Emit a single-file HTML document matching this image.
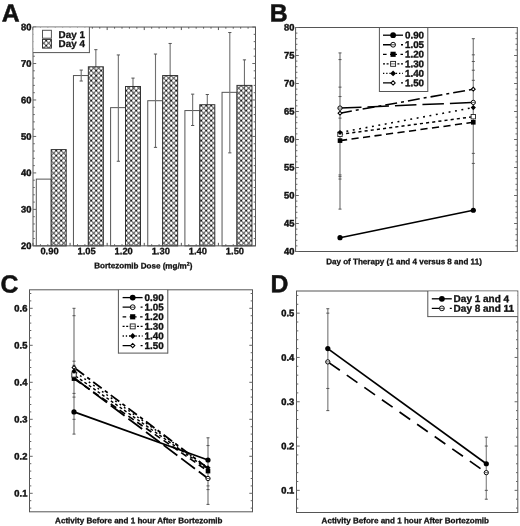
<!DOCTYPE html>
<html lang="en"><head><meta charset="utf-8"><title>Figure</title>
<style>html,body{margin:0;padding:0;background:#fff}body{width:520px;height:526px;overflow:hidden}svg{display:block}</style>
</head><body>
<svg width="520" height="526" viewBox="0 0 520 526" font-family="'Liberation Sans', sans-serif" font-weight="bold" fill="#111" text-rendering="geometricPrecision">
<defs><pattern id="hx" width="5" height="5" patternUnits="userSpaceOnUse" x="1.2" y="0.6"><rect width="5" height="5" fill="#fff"/><path d="M-1 -1L6 6M-1 6L6 -1" stroke="#1a1a1a" stroke-width="0.95" fill="none"/><path d="M0 0h.01M5 0h.01M0 5h.01M5 5h.01M2.5 2.5h.01" stroke="#000" stroke-width="1.5" stroke-linecap="round" fill="none"/></pattern></defs>
<rect width="520" height="526" fill="#fff"/>
<text x="1.70" y="21.50" transform="rotate(0.05 1.70 21.50)" font-size="24.8" text-anchor="start" stroke="#111" stroke-width="0.5" stroke-linejoin="round">A</text>
<text x="269.70" y="21.50" transform="rotate(0.05 269.70 21.50)" font-size="24.8" text-anchor="start" stroke="#111" stroke-width="0.5" stroke-linejoin="round">B</text>
<text x="0.50" y="292.50" transform="rotate(0.05 0.50 292.50)" font-size="24.8" text-anchor="start" stroke="#111" stroke-width="0.5" stroke-linejoin="round">C</text>
<text x="270.50" y="292.30" transform="rotate(0.05 270.50 292.30)" font-size="24.8" text-anchor="start" stroke="#111" stroke-width="0.5" stroke-linejoin="round">D</text>
<rect x="36.30" y="179.12" width="14.90" height="66.73" fill="#fff" stroke="#555" stroke-width="1"/>
<rect x="51.20" y="149.58" width="15.00" height="96.27" fill="url(#hx)" stroke="#333" stroke-width="1"/>
<rect x="73.45" y="75.55" width="14.90" height="170.30" fill="#fff" stroke="#555" stroke-width="1"/>
<line x1="95.85" y1="49.66" x2="95.85" y2="85.40" stroke="#707070" stroke-width="1.1" />
<line x1="94.25" y1="49.66" x2="97.45" y2="49.66" stroke="#555" stroke-width="1.0" />
<line x1="94.25" y1="85.40" x2="97.45" y2="85.40" stroke="#555" stroke-width="1.0" />
<rect x="88.35" y="66.80" width="15.00" height="179.05" fill="url(#hx)" stroke="#333" stroke-width="1"/>
<line x1="95.85" y1="66.80" x2="95.85" y2="85.40" stroke="#000" stroke-width="1.1" opacity="0.3"/>
<line x1="81.20" y1="70.08" x2="81.20" y2="81.02" stroke="#707070" stroke-width="1.1" />
<line x1="79.60" y1="70.08" x2="82.80" y2="70.08" stroke="#555" stroke-width="1.0" />
<line x1="79.60" y1="81.02" x2="82.80" y2="81.02" stroke="#555" stroke-width="1.0" />
<rect x="110.60" y="107.64" width="14.90" height="138.21" fill="#fff" stroke="#555" stroke-width="1"/>
<line x1="133.00" y1="78.10" x2="133.00" y2="94.51" stroke="#707070" stroke-width="1.1" />
<line x1="131.40" y1="78.10" x2="134.60" y2="78.10" stroke="#555" stroke-width="1.0" />
<line x1="131.40" y1="94.51" x2="134.60" y2="94.51" stroke="#555" stroke-width="1.0" />
<rect x="125.50" y="86.49" width="15.00" height="159.36" fill="url(#hx)" stroke="#333" stroke-width="1"/>
<line x1="133.00" y1="86.49" x2="133.00" y2="94.51" stroke="#000" stroke-width="1.1" opacity="0.3"/>
<line x1="118.35" y1="54.95" x2="118.35" y2="161.25" stroke="#707070" stroke-width="1.1" />
<line x1="116.75" y1="54.95" x2="119.95" y2="54.95" stroke="#555" stroke-width="1.0" />
<line x1="116.75" y1="161.25" x2="119.95" y2="161.25" stroke="#555" stroke-width="1.0" />
<rect x="147.75" y="100.71" width="14.90" height="145.14" fill="#fff" stroke="#555" stroke-width="1"/>
<line x1="170.15" y1="43.46" x2="170.15" y2="107.28" stroke="#707070" stroke-width="1.1" />
<line x1="168.55" y1="43.46" x2="171.75" y2="43.46" stroke="#555" stroke-width="1.0" />
<line x1="168.55" y1="107.28" x2="171.75" y2="107.28" stroke="#555" stroke-width="1.0" />
<rect x="162.65" y="75.55" width="15.00" height="170.30" fill="url(#hx)" stroke="#333" stroke-width="1"/>
<line x1="170.15" y1="75.55" x2="170.15" y2="107.28" stroke="#000" stroke-width="1.1" opacity="0.3"/>
<line x1="155.50" y1="54.04" x2="155.50" y2="147.39" stroke="#707070" stroke-width="1.1" />
<line x1="153.90" y1="54.04" x2="157.10" y2="54.04" stroke="#555" stroke-width="1.0" />
<line x1="153.90" y1="147.39" x2="157.10" y2="147.39" stroke="#555" stroke-width="1.0" />
<rect x="184.90" y="110.56" width="14.90" height="135.29" fill="#fff" stroke="#555" stroke-width="1"/>
<line x1="207.30" y1="94.51" x2="207.30" y2="114.57" stroke="#707070" stroke-width="1.1" />
<line x1="205.70" y1="94.51" x2="208.90" y2="94.51" stroke="#555" stroke-width="1.0" />
<line x1="205.70" y1="114.57" x2="208.90" y2="114.57" stroke="#555" stroke-width="1.0" />
<rect x="199.80" y="104.72" width="15.00" height="141.13" fill="url(#hx)" stroke="#333" stroke-width="1"/>
<line x1="207.30" y1="104.72" x2="207.30" y2="114.57" stroke="#000" stroke-width="1.1" opacity="0.3"/>
<line x1="192.65" y1="94.15" x2="192.65" y2="125.51" stroke="#707070" stroke-width="1.1" />
<line x1="191.05" y1="94.15" x2="194.25" y2="94.15" stroke="#555" stroke-width="1.0" />
<line x1="191.05" y1="125.51" x2="194.25" y2="125.51" stroke="#555" stroke-width="1.0" />
<rect x="222.05" y="92.33" width="14.90" height="153.52" fill="#fff" stroke="#555" stroke-width="1"/>
<line x1="244.45" y1="59.87" x2="244.45" y2="110.92" stroke="#707070" stroke-width="1.1" />
<line x1="242.85" y1="59.87" x2="246.05" y2="59.87" stroke="#555" stroke-width="1.0" />
<line x1="242.85" y1="110.92" x2="246.05" y2="110.92" stroke="#555" stroke-width="1.0" />
<rect x="236.95" y="85.40" width="15.00" height="160.45" fill="url(#hx)" stroke="#333" stroke-width="1"/>
<line x1="244.45" y1="85.40" x2="244.45" y2="110.92" stroke="#000" stroke-width="1.1" opacity="0.3"/>
<line x1="229.80" y1="32.52" x2="229.80" y2="152.86" stroke="#707070" stroke-width="1.1" />
<line x1="228.20" y1="32.52" x2="231.40" y2="32.52" stroke="#555" stroke-width="1.0" />
<line x1="228.20" y1="152.86" x2="231.40" y2="152.86" stroke="#555" stroke-width="1.0" />
<rect x="33.00" y="27.05" width="222.50" height="218.80" fill="none" stroke="#555" stroke-width="1"/>
<line x1="33.00" y1="245.85" x2="36.20" y2="245.85" stroke="#666" stroke-width="1" />
<line x1="255.50" y1="245.85" x2="252.30" y2="245.85" stroke="#666" stroke-width="1" />
<line x1="33.00" y1="238.56" x2="34.80" y2="238.56" stroke="#666" stroke-width="1" />
<line x1="255.50" y1="238.56" x2="253.70" y2="238.56" stroke="#666" stroke-width="1" />
<line x1="33.00" y1="231.26" x2="34.80" y2="231.26" stroke="#666" stroke-width="1" />
<line x1="255.50" y1="231.26" x2="253.70" y2="231.26" stroke="#666" stroke-width="1" />
<line x1="33.00" y1="223.97" x2="34.80" y2="223.97" stroke="#666" stroke-width="1" />
<line x1="255.50" y1="223.97" x2="253.70" y2="223.97" stroke="#666" stroke-width="1" />
<line x1="33.00" y1="216.68" x2="34.80" y2="216.68" stroke="#666" stroke-width="1" />
<line x1="255.50" y1="216.68" x2="253.70" y2="216.68" stroke="#666" stroke-width="1" />
<line x1="33.00" y1="209.38" x2="36.20" y2="209.38" stroke="#666" stroke-width="1" />
<line x1="255.50" y1="209.38" x2="252.30" y2="209.38" stroke="#666" stroke-width="1" />
<line x1="33.00" y1="202.09" x2="34.80" y2="202.09" stroke="#666" stroke-width="1" />
<line x1="255.50" y1="202.09" x2="253.70" y2="202.09" stroke="#666" stroke-width="1" />
<line x1="33.00" y1="194.80" x2="34.80" y2="194.80" stroke="#666" stroke-width="1" />
<line x1="255.50" y1="194.80" x2="253.70" y2="194.80" stroke="#666" stroke-width="1" />
<line x1="33.00" y1="187.50" x2="34.80" y2="187.50" stroke="#666" stroke-width="1" />
<line x1="255.50" y1="187.50" x2="253.70" y2="187.50" stroke="#666" stroke-width="1" />
<line x1="33.00" y1="180.21" x2="34.80" y2="180.21" stroke="#666" stroke-width="1" />
<line x1="255.50" y1="180.21" x2="253.70" y2="180.21" stroke="#666" stroke-width="1" />
<line x1="33.00" y1="172.92" x2="36.20" y2="172.92" stroke="#666" stroke-width="1" />
<line x1="255.50" y1="172.92" x2="252.30" y2="172.92" stroke="#666" stroke-width="1" />
<line x1="33.00" y1="165.62" x2="34.80" y2="165.62" stroke="#666" stroke-width="1" />
<line x1="255.50" y1="165.62" x2="253.70" y2="165.62" stroke="#666" stroke-width="1" />
<line x1="33.00" y1="158.33" x2="34.80" y2="158.33" stroke="#666" stroke-width="1" />
<line x1="255.50" y1="158.33" x2="253.70" y2="158.33" stroke="#666" stroke-width="1" />
<line x1="33.00" y1="151.04" x2="34.80" y2="151.04" stroke="#666" stroke-width="1" />
<line x1="255.50" y1="151.04" x2="253.70" y2="151.04" stroke="#666" stroke-width="1" />
<line x1="33.00" y1="143.74" x2="34.80" y2="143.74" stroke="#666" stroke-width="1" />
<line x1="255.50" y1="143.74" x2="253.70" y2="143.74" stroke="#666" stroke-width="1" />
<line x1="33.00" y1="136.45" x2="36.20" y2="136.45" stroke="#666" stroke-width="1" />
<line x1="255.50" y1="136.45" x2="252.30" y2="136.45" stroke="#666" stroke-width="1" />
<line x1="33.00" y1="129.16" x2="34.80" y2="129.16" stroke="#666" stroke-width="1" />
<line x1="255.50" y1="129.16" x2="253.70" y2="129.16" stroke="#666" stroke-width="1" />
<line x1="33.00" y1="121.86" x2="34.80" y2="121.86" stroke="#666" stroke-width="1" />
<line x1="255.50" y1="121.86" x2="253.70" y2="121.86" stroke="#666" stroke-width="1" />
<line x1="33.00" y1="114.57" x2="34.80" y2="114.57" stroke="#666" stroke-width="1" />
<line x1="255.50" y1="114.57" x2="253.70" y2="114.57" stroke="#666" stroke-width="1" />
<line x1="33.00" y1="107.28" x2="34.80" y2="107.28" stroke="#666" stroke-width="1" />
<line x1="255.50" y1="107.28" x2="253.70" y2="107.28" stroke="#666" stroke-width="1" />
<line x1="33.00" y1="99.98" x2="36.20" y2="99.98" stroke="#666" stroke-width="1" />
<line x1="255.50" y1="99.98" x2="252.30" y2="99.98" stroke="#666" stroke-width="1" />
<line x1="33.00" y1="92.69" x2="34.80" y2="92.69" stroke="#666" stroke-width="1" />
<line x1="255.50" y1="92.69" x2="253.70" y2="92.69" stroke="#666" stroke-width="1" />
<line x1="33.00" y1="85.40" x2="34.80" y2="85.40" stroke="#666" stroke-width="1" />
<line x1="255.50" y1="85.40" x2="253.70" y2="85.40" stroke="#666" stroke-width="1" />
<line x1="33.00" y1="78.10" x2="34.80" y2="78.10" stroke="#666" stroke-width="1" />
<line x1="255.50" y1="78.10" x2="253.70" y2="78.10" stroke="#666" stroke-width="1" />
<line x1="33.00" y1="70.81" x2="34.80" y2="70.81" stroke="#666" stroke-width="1" />
<line x1="255.50" y1="70.81" x2="253.70" y2="70.81" stroke="#666" stroke-width="1" />
<line x1="33.00" y1="63.52" x2="36.20" y2="63.52" stroke="#666" stroke-width="1" />
<line x1="255.50" y1="63.52" x2="252.30" y2="63.52" stroke="#666" stroke-width="1" />
<line x1="33.00" y1="56.22" x2="34.80" y2="56.22" stroke="#666" stroke-width="1" />
<line x1="255.50" y1="56.22" x2="253.70" y2="56.22" stroke="#666" stroke-width="1" />
<line x1="33.00" y1="48.93" x2="34.80" y2="48.93" stroke="#666" stroke-width="1" />
<line x1="255.50" y1="48.93" x2="253.70" y2="48.93" stroke="#666" stroke-width="1" />
<line x1="33.00" y1="41.64" x2="34.80" y2="41.64" stroke="#666" stroke-width="1" />
<line x1="255.50" y1="41.64" x2="253.70" y2="41.64" stroke="#666" stroke-width="1" />
<line x1="33.00" y1="34.34" x2="34.80" y2="34.34" stroke="#666" stroke-width="1" />
<line x1="255.50" y1="34.34" x2="253.70" y2="34.34" stroke="#666" stroke-width="1" />
<line x1="33.00" y1="27.05" x2="36.20" y2="27.05" stroke="#666" stroke-width="1" />
<line x1="255.50" y1="27.05" x2="252.30" y2="27.05" stroke="#666" stroke-width="1" />
<text x="31.40" y="249.05" transform="rotate(0.05 31.40 249.05)" font-size="9.4" text-anchor="end" stroke="#111" stroke-width="0.45">20</text>
<text x="31.40" y="212.58" transform="rotate(0.05 31.40 212.58)" font-size="9.4" text-anchor="end" stroke="#111" stroke-width="0.45">30</text>
<text x="31.40" y="176.12" transform="rotate(0.05 31.40 176.12)" font-size="9.4" text-anchor="end" stroke="#111" stroke-width="0.45">40</text>
<text x="31.40" y="139.65" transform="rotate(0.05 31.40 139.65)" font-size="9.4" text-anchor="end" stroke="#111" stroke-width="0.45">50</text>
<text x="31.40" y="103.18" transform="rotate(0.05 31.40 103.18)" font-size="9.4" text-anchor="end" stroke="#111" stroke-width="0.45">60</text>
<text x="31.40" y="66.72" transform="rotate(0.05 31.40 66.72)" font-size="9.4" text-anchor="end" stroke="#111" stroke-width="0.45">70</text>
<text x="31.40" y="30.25" transform="rotate(0.05 31.40 30.25)" font-size="9.4" text-anchor="end" stroke="#111" stroke-width="0.45">80</text>
<line x1="33.00" y1="27.05" x2="33.00" y2="30.05" stroke="#555" stroke-width="1" />
<line x1="33.00" y1="245.85" x2="33.00" y2="242.85" stroke="#555" stroke-width="1" />
<line x1="40.42" y1="27.05" x2="40.42" y2="28.65" stroke="#555" stroke-width="1" />
<line x1="40.42" y1="245.85" x2="40.42" y2="244.25" stroke="#555" stroke-width="1" />
<line x1="47.83" y1="27.05" x2="47.83" y2="28.65" stroke="#555" stroke-width="1" />
<line x1="47.83" y1="245.85" x2="47.83" y2="244.25" stroke="#555" stroke-width="1" />
<line x1="55.25" y1="27.05" x2="55.25" y2="28.65" stroke="#555" stroke-width="1" />
<line x1="55.25" y1="245.85" x2="55.25" y2="244.25" stroke="#555" stroke-width="1" />
<line x1="62.67" y1="27.05" x2="62.67" y2="28.65" stroke="#555" stroke-width="1" />
<line x1="62.67" y1="245.85" x2="62.67" y2="244.25" stroke="#555" stroke-width="1" />
<line x1="70.08" y1="27.05" x2="70.08" y2="30.05" stroke="#555" stroke-width="1" />
<line x1="70.08" y1="245.85" x2="70.08" y2="242.85" stroke="#555" stroke-width="1" />
<line x1="77.50" y1="27.05" x2="77.50" y2="28.65" stroke="#555" stroke-width="1" />
<line x1="77.50" y1="245.85" x2="77.50" y2="244.25" stroke="#555" stroke-width="1" />
<line x1="84.92" y1="27.05" x2="84.92" y2="28.65" stroke="#555" stroke-width="1" />
<line x1="84.92" y1="245.85" x2="84.92" y2="244.25" stroke="#555" stroke-width="1" />
<line x1="92.33" y1="27.05" x2="92.33" y2="28.65" stroke="#555" stroke-width="1" />
<line x1="92.33" y1="245.85" x2="92.33" y2="244.25" stroke="#555" stroke-width="1" />
<line x1="99.75" y1="27.05" x2="99.75" y2="28.65" stroke="#555" stroke-width="1" />
<line x1="99.75" y1="245.85" x2="99.75" y2="244.25" stroke="#555" stroke-width="1" />
<line x1="107.17" y1="27.05" x2="107.17" y2="30.05" stroke="#555" stroke-width="1" />
<line x1="107.17" y1="245.85" x2="107.17" y2="242.85" stroke="#555" stroke-width="1" />
<line x1="114.58" y1="27.05" x2="114.58" y2="28.65" stroke="#555" stroke-width="1" />
<line x1="114.58" y1="245.85" x2="114.58" y2="244.25" stroke="#555" stroke-width="1" />
<line x1="122.00" y1="27.05" x2="122.00" y2="28.65" stroke="#555" stroke-width="1" />
<line x1="122.00" y1="245.85" x2="122.00" y2="244.25" stroke="#555" stroke-width="1" />
<line x1="129.42" y1="27.05" x2="129.42" y2="28.65" stroke="#555" stroke-width="1" />
<line x1="129.42" y1="245.85" x2="129.42" y2="244.25" stroke="#555" stroke-width="1" />
<line x1="136.83" y1="27.05" x2="136.83" y2="28.65" stroke="#555" stroke-width="1" />
<line x1="136.83" y1="245.85" x2="136.83" y2="244.25" stroke="#555" stroke-width="1" />
<line x1="144.25" y1="27.05" x2="144.25" y2="30.05" stroke="#555" stroke-width="1" />
<line x1="144.25" y1="245.85" x2="144.25" y2="242.85" stroke="#555" stroke-width="1" />
<line x1="151.67" y1="27.05" x2="151.67" y2="28.65" stroke="#555" stroke-width="1" />
<line x1="151.67" y1="245.85" x2="151.67" y2="244.25" stroke="#555" stroke-width="1" />
<line x1="159.08" y1="27.05" x2="159.08" y2="28.65" stroke="#555" stroke-width="1" />
<line x1="159.08" y1="245.85" x2="159.08" y2="244.25" stroke="#555" stroke-width="1" />
<line x1="166.50" y1="27.05" x2="166.50" y2="28.65" stroke="#555" stroke-width="1" />
<line x1="166.50" y1="245.85" x2="166.50" y2="244.25" stroke="#555" stroke-width="1" />
<line x1="173.92" y1="27.05" x2="173.92" y2="28.65" stroke="#555" stroke-width="1" />
<line x1="173.92" y1="245.85" x2="173.92" y2="244.25" stroke="#555" stroke-width="1" />
<line x1="181.33" y1="27.05" x2="181.33" y2="30.05" stroke="#555" stroke-width="1" />
<line x1="181.33" y1="245.85" x2="181.33" y2="242.85" stroke="#555" stroke-width="1" />
<line x1="188.75" y1="27.05" x2="188.75" y2="28.65" stroke="#555" stroke-width="1" />
<line x1="188.75" y1="245.85" x2="188.75" y2="244.25" stroke="#555" stroke-width="1" />
<line x1="196.17" y1="27.05" x2="196.17" y2="28.65" stroke="#555" stroke-width="1" />
<line x1="196.17" y1="245.85" x2="196.17" y2="244.25" stroke="#555" stroke-width="1" />
<line x1="203.58" y1="27.05" x2="203.58" y2="28.65" stroke="#555" stroke-width="1" />
<line x1="203.58" y1="245.85" x2="203.58" y2="244.25" stroke="#555" stroke-width="1" />
<line x1="211.00" y1="27.05" x2="211.00" y2="28.65" stroke="#555" stroke-width="1" />
<line x1="211.00" y1="245.85" x2="211.00" y2="244.25" stroke="#555" stroke-width="1" />
<line x1="218.42" y1="27.05" x2="218.42" y2="30.05" stroke="#555" stroke-width="1" />
<line x1="218.42" y1="245.85" x2="218.42" y2="242.85" stroke="#555" stroke-width="1" />
<line x1="225.83" y1="27.05" x2="225.83" y2="28.65" stroke="#555" stroke-width="1" />
<line x1="225.83" y1="245.85" x2="225.83" y2="244.25" stroke="#555" stroke-width="1" />
<line x1="233.25" y1="27.05" x2="233.25" y2="28.65" stroke="#555" stroke-width="1" />
<line x1="233.25" y1="245.85" x2="233.25" y2="244.25" stroke="#555" stroke-width="1" />
<line x1="240.67" y1="27.05" x2="240.67" y2="28.65" stroke="#555" stroke-width="1" />
<line x1="240.67" y1="245.85" x2="240.67" y2="244.25" stroke="#555" stroke-width="1" />
<line x1="248.08" y1="27.05" x2="248.08" y2="28.65" stroke="#555" stroke-width="1" />
<line x1="248.08" y1="245.85" x2="248.08" y2="244.25" stroke="#555" stroke-width="1" />
<line x1="255.50" y1="27.05" x2="255.50" y2="30.05" stroke="#555" stroke-width="1" />
<line x1="255.50" y1="245.85" x2="255.50" y2="242.85" stroke="#555" stroke-width="1" />
<text x="49.54" y="254.25" transform="rotate(0.05 49.54 254.25)" font-size="9.4" text-anchor="middle" stroke="#111" stroke-width="0.3">0.90</text>
<text x="86.63" y="254.25" transform="rotate(0.05 86.63 254.25)" font-size="9.4" text-anchor="middle" stroke="#111" stroke-width="0.3">1.05</text>
<text x="123.71" y="254.25" transform="rotate(0.05 123.71 254.25)" font-size="9.4" text-anchor="middle" stroke="#111" stroke-width="0.3">1.20</text>
<text x="160.79" y="254.25" transform="rotate(0.05 160.79 254.25)" font-size="9.4" text-anchor="middle" stroke="#111" stroke-width="0.3">1.30</text>
<text x="197.88" y="254.25" transform="rotate(0.05 197.88 254.25)" font-size="9.4" text-anchor="middle" stroke="#111" stroke-width="0.3">1.40</text>
<text x="234.96" y="254.25" transform="rotate(0.05 234.96 254.25)" font-size="9.4" text-anchor="middle" stroke="#111" stroke-width="0.3">1.50</text>
<rect x="33.50" y="27.55" width="55.40" height="25.05" fill="#fff"/>
<line x1="89.40" y1="27.05" x2="89.40" y2="53.10" stroke="#555" stroke-width="1" />
<line x1="33.00" y1="52.60" x2="89.40" y2="52.60" stroke="#555" stroke-width="1" />
<rect x="42.50" y="30.30" width="8.90" height="7.90" fill="#fff" stroke="#555" stroke-width="1"/>
<rect x="42.50" y="39.40" width="8.90" height="8.70" fill="url(#hx)" stroke="#333" stroke-width="1"/>
<text x="58.60" y="37.90" transform="rotate(0.05 58.60 37.90)" font-size="9.9" text-anchor="start" stroke="#111" stroke-width="0.3">Day 1</text>
<text x="58.60" y="47.00" transform="rotate(0.05 58.60 47.00)" font-size="9.9" text-anchor="start" stroke="#111" stroke-width="0.3">Day 4</text>
<text x="143.3" y="268.4" transform="rotate(0.05 143.3 268.4)" font-size="8.05" text-anchor="middle" stroke="#111" stroke-width="0.3">Bortezomib Dose (mg/m<tspan font-size="5.2" dy="-3">2</tspan><tspan dy="3">)</tspan></text>
<rect x="295.60" y="27.50" width="221.70" height="224.00" fill="none" stroke="#555" stroke-width="1"/>
<line x1="295.60" y1="251.50" x2="298.80" y2="251.50" stroke="#666" stroke-width="1" />
<line x1="517.30" y1="251.50" x2="514.10" y2="251.50" stroke="#666" stroke-width="1" />
<line x1="295.60" y1="245.90" x2="297.40" y2="245.90" stroke="#666" stroke-width="1" />
<line x1="517.30" y1="245.90" x2="515.50" y2="245.90" stroke="#666" stroke-width="1" />
<line x1="295.60" y1="240.30" x2="297.40" y2="240.30" stroke="#666" stroke-width="1" />
<line x1="517.30" y1="240.30" x2="515.50" y2="240.30" stroke="#666" stroke-width="1" />
<line x1="295.60" y1="234.70" x2="297.40" y2="234.70" stroke="#666" stroke-width="1" />
<line x1="517.30" y1="234.70" x2="515.50" y2="234.70" stroke="#666" stroke-width="1" />
<line x1="295.60" y1="229.10" x2="297.40" y2="229.10" stroke="#666" stroke-width="1" />
<line x1="517.30" y1="229.10" x2="515.50" y2="229.10" stroke="#666" stroke-width="1" />
<line x1="295.60" y1="223.50" x2="298.80" y2="223.50" stroke="#666" stroke-width="1" />
<line x1="517.30" y1="223.50" x2="514.10" y2="223.50" stroke="#666" stroke-width="1" />
<line x1="295.60" y1="217.90" x2="297.40" y2="217.90" stroke="#666" stroke-width="1" />
<line x1="517.30" y1="217.90" x2="515.50" y2="217.90" stroke="#666" stroke-width="1" />
<line x1="295.60" y1="212.30" x2="297.40" y2="212.30" stroke="#666" stroke-width="1" />
<line x1="517.30" y1="212.30" x2="515.50" y2="212.30" stroke="#666" stroke-width="1" />
<line x1="295.60" y1="206.70" x2="297.40" y2="206.70" stroke="#666" stroke-width="1" />
<line x1="517.30" y1="206.70" x2="515.50" y2="206.70" stroke="#666" stroke-width="1" />
<line x1="295.60" y1="201.10" x2="297.40" y2="201.10" stroke="#666" stroke-width="1" />
<line x1="517.30" y1="201.10" x2="515.50" y2="201.10" stroke="#666" stroke-width="1" />
<line x1="295.60" y1="195.50" x2="298.80" y2="195.50" stroke="#666" stroke-width="1" />
<line x1="517.30" y1="195.50" x2="514.10" y2="195.50" stroke="#666" stroke-width="1" />
<line x1="295.60" y1="189.90" x2="297.40" y2="189.90" stroke="#666" stroke-width="1" />
<line x1="517.30" y1="189.90" x2="515.50" y2="189.90" stroke="#666" stroke-width="1" />
<line x1="295.60" y1="184.30" x2="297.40" y2="184.30" stroke="#666" stroke-width="1" />
<line x1="517.30" y1="184.30" x2="515.50" y2="184.30" stroke="#666" stroke-width="1" />
<line x1="295.60" y1="178.70" x2="297.40" y2="178.70" stroke="#666" stroke-width="1" />
<line x1="517.30" y1="178.70" x2="515.50" y2="178.70" stroke="#666" stroke-width="1" />
<line x1="295.60" y1="173.10" x2="297.40" y2="173.10" stroke="#666" stroke-width="1" />
<line x1="517.30" y1="173.10" x2="515.50" y2="173.10" stroke="#666" stroke-width="1" />
<line x1="295.60" y1="167.50" x2="298.80" y2="167.50" stroke="#666" stroke-width="1" />
<line x1="517.30" y1="167.50" x2="514.10" y2="167.50" stroke="#666" stroke-width="1" />
<line x1="295.60" y1="161.90" x2="297.40" y2="161.90" stroke="#666" stroke-width="1" />
<line x1="517.30" y1="161.90" x2="515.50" y2="161.90" stroke="#666" stroke-width="1" />
<line x1="295.60" y1="156.30" x2="297.40" y2="156.30" stroke="#666" stroke-width="1" />
<line x1="517.30" y1="156.30" x2="515.50" y2="156.30" stroke="#666" stroke-width="1" />
<line x1="295.60" y1="150.70" x2="297.40" y2="150.70" stroke="#666" stroke-width="1" />
<line x1="517.30" y1="150.70" x2="515.50" y2="150.70" stroke="#666" stroke-width="1" />
<line x1="295.60" y1="145.10" x2="297.40" y2="145.10" stroke="#666" stroke-width="1" />
<line x1="517.30" y1="145.10" x2="515.50" y2="145.10" stroke="#666" stroke-width="1" />
<line x1="295.60" y1="139.50" x2="298.80" y2="139.50" stroke="#666" stroke-width="1" />
<line x1="517.30" y1="139.50" x2="514.10" y2="139.50" stroke="#666" stroke-width="1" />
<line x1="295.60" y1="133.90" x2="297.40" y2="133.90" stroke="#666" stroke-width="1" />
<line x1="517.30" y1="133.90" x2="515.50" y2="133.90" stroke="#666" stroke-width="1" />
<line x1="295.60" y1="128.30" x2="297.40" y2="128.30" stroke="#666" stroke-width="1" />
<line x1="517.30" y1="128.30" x2="515.50" y2="128.30" stroke="#666" stroke-width="1" />
<line x1="295.60" y1="122.70" x2="297.40" y2="122.70" stroke="#666" stroke-width="1" />
<line x1="517.30" y1="122.70" x2="515.50" y2="122.70" stroke="#666" stroke-width="1" />
<line x1="295.60" y1="117.10" x2="297.40" y2="117.10" stroke="#666" stroke-width="1" />
<line x1="517.30" y1="117.10" x2="515.50" y2="117.10" stroke="#666" stroke-width="1" />
<line x1="295.60" y1="111.50" x2="298.80" y2="111.50" stroke="#666" stroke-width="1" />
<line x1="517.30" y1="111.50" x2="514.10" y2="111.50" stroke="#666" stroke-width="1" />
<line x1="295.60" y1="105.90" x2="297.40" y2="105.90" stroke="#666" stroke-width="1" />
<line x1="517.30" y1="105.90" x2="515.50" y2="105.90" stroke="#666" stroke-width="1" />
<line x1="295.60" y1="100.30" x2="297.40" y2="100.30" stroke="#666" stroke-width="1" />
<line x1="517.30" y1="100.30" x2="515.50" y2="100.30" stroke="#666" stroke-width="1" />
<line x1="295.60" y1="94.70" x2="297.40" y2="94.70" stroke="#666" stroke-width="1" />
<line x1="517.30" y1="94.70" x2="515.50" y2="94.70" stroke="#666" stroke-width="1" />
<line x1="295.60" y1="89.10" x2="297.40" y2="89.10" stroke="#666" stroke-width="1" />
<line x1="517.30" y1="89.10" x2="515.50" y2="89.10" stroke="#666" stroke-width="1" />
<line x1="295.60" y1="83.50" x2="298.80" y2="83.50" stroke="#666" stroke-width="1" />
<line x1="517.30" y1="83.50" x2="514.10" y2="83.50" stroke="#666" stroke-width="1" />
<line x1="295.60" y1="77.90" x2="297.40" y2="77.90" stroke="#666" stroke-width="1" />
<line x1="517.30" y1="77.90" x2="515.50" y2="77.90" stroke="#666" stroke-width="1" />
<line x1="295.60" y1="72.30" x2="297.40" y2="72.30" stroke="#666" stroke-width="1" />
<line x1="517.30" y1="72.30" x2="515.50" y2="72.30" stroke="#666" stroke-width="1" />
<line x1="295.60" y1="66.70" x2="297.40" y2="66.70" stroke="#666" stroke-width="1" />
<line x1="517.30" y1="66.70" x2="515.50" y2="66.70" stroke="#666" stroke-width="1" />
<line x1="295.60" y1="61.10" x2="297.40" y2="61.10" stroke="#666" stroke-width="1" />
<line x1="517.30" y1="61.10" x2="515.50" y2="61.10" stroke="#666" stroke-width="1" />
<line x1="295.60" y1="55.50" x2="298.80" y2="55.50" stroke="#666" stroke-width="1" />
<line x1="517.30" y1="55.50" x2="514.10" y2="55.50" stroke="#666" stroke-width="1" />
<line x1="295.60" y1="49.90" x2="297.40" y2="49.90" stroke="#666" stroke-width="1" />
<line x1="517.30" y1="49.90" x2="515.50" y2="49.90" stroke="#666" stroke-width="1" />
<line x1="295.60" y1="44.30" x2="297.40" y2="44.30" stroke="#666" stroke-width="1" />
<line x1="517.30" y1="44.30" x2="515.50" y2="44.30" stroke="#666" stroke-width="1" />
<line x1="295.60" y1="38.70" x2="297.40" y2="38.70" stroke="#666" stroke-width="1" />
<line x1="517.30" y1="38.70" x2="515.50" y2="38.70" stroke="#666" stroke-width="1" />
<line x1="295.60" y1="33.10" x2="297.40" y2="33.10" stroke="#666" stroke-width="1" />
<line x1="517.30" y1="33.10" x2="515.50" y2="33.10" stroke="#666" stroke-width="1" />
<line x1="295.60" y1="27.50" x2="298.80" y2="27.50" stroke="#666" stroke-width="1" />
<line x1="517.30" y1="27.50" x2="514.10" y2="27.50" stroke="#666" stroke-width="1" />
<text x="294.40" y="254.40" transform="rotate(0.05 294.40 254.40)" font-size="9.4" text-anchor="end" stroke="#111" stroke-width="0.45">40</text>
<text x="294.40" y="226.40" transform="rotate(0.05 294.40 226.40)" font-size="9.4" text-anchor="end" stroke="#111" stroke-width="0.45">45</text>
<text x="294.40" y="198.40" transform="rotate(0.05 294.40 198.40)" font-size="9.4" text-anchor="end" stroke="#111" stroke-width="0.45">50</text>
<text x="294.40" y="170.40" transform="rotate(0.05 294.40 170.40)" font-size="9.4" text-anchor="end" stroke="#111" stroke-width="0.45">55</text>
<text x="294.40" y="142.40" transform="rotate(0.05 294.40 142.40)" font-size="9.4" text-anchor="end" stroke="#111" stroke-width="0.45">60</text>
<text x="294.40" y="114.40" transform="rotate(0.05 294.40 114.40)" font-size="9.4" text-anchor="end" stroke="#111" stroke-width="0.45">65</text>
<text x="294.40" y="86.40" transform="rotate(0.05 294.40 86.40)" font-size="9.4" text-anchor="end" stroke="#111" stroke-width="0.45">70</text>
<text x="294.40" y="58.40" transform="rotate(0.05 294.40 58.40)" font-size="9.4" text-anchor="end" stroke="#111" stroke-width="0.45">75</text>
<text x="294.40" y="30.40" transform="rotate(0.05 294.40 30.40)" font-size="9.4" text-anchor="end" stroke="#111" stroke-width="0.45">80</text>
<line x1="340.00" y1="52.92" x2="340.00" y2="209.11" stroke="#909090" stroke-width="1.45" />
<line x1="338.50" y1="52.92" x2="341.50" y2="52.92" stroke="#555" stroke-width="1.0" />
<line x1="338.50" y1="59.59" x2="341.50" y2="59.59" stroke="#555" stroke-width="1.0" />
<line x1="338.50" y1="87.14" x2="341.50" y2="87.14" stroke="#555" stroke-width="1.0" />
<line x1="338.50" y1="96.55" x2="341.50" y2="96.55" stroke="#555" stroke-width="1.0" />
<line x1="338.50" y1="118.11" x2="341.50" y2="118.11" stroke="#555" stroke-width="1.0" />
<line x1="338.50" y1="174.95" x2="341.50" y2="174.95" stroke="#555" stroke-width="1.0" />
<line x1="338.50" y1="176.63" x2="341.50" y2="176.63" stroke="#555" stroke-width="1.0" />
<line x1="338.50" y1="179.04" x2="341.50" y2="179.04" stroke="#555" stroke-width="1.0" />
<line x1="338.50" y1="209.11" x2="341.50" y2="209.11" stroke="#555" stroke-width="1.0" />
<line x1="473.30" y1="38.70" x2="473.30" y2="210.23" stroke="#888" stroke-width="1.3" />
<line x1="471.80" y1="38.70" x2="474.80" y2="38.70" stroke="#555" stroke-width="1.0" />
<line x1="471.80" y1="54.83" x2="474.80" y2="54.83" stroke="#555" stroke-width="1.0" />
<line x1="471.80" y1="61.49" x2="474.80" y2="61.49" stroke="#555" stroke-width="1.0" />
<line x1="471.80" y1="70.23" x2="474.80" y2="70.23" stroke="#555" stroke-width="1.0" />
<line x1="471.80" y1="80.31" x2="474.80" y2="80.31" stroke="#555" stroke-width="1.0" />
<line x1="471.80" y1="153.39" x2="474.80" y2="153.39" stroke="#555" stroke-width="1.0" />
<line x1="471.80" y1="163.41" x2="474.80" y2="163.41" stroke="#555" stroke-width="1.0" />
<line x1="340.00" y1="237.67" x2="473.30" y2="210.23" stroke="#000" stroke-width="1.55" />
<line x1="340.00" y1="108.08" x2="473.30" y2="102.43" stroke="#000" stroke-width="1.55" stroke-dasharray="21.5 6"/>
<line x1="340.00" y1="140.62" x2="473.30" y2="122.31" stroke="#000" stroke-width="1.55" stroke-dasharray="7.2 4.4"/>
<line x1="340.00" y1="134.35" x2="473.30" y2="116.71" stroke="#000" stroke-width="1.47" stroke-dasharray="3.1 3.1"/>
<line x1="340.00" y1="132.50" x2="473.30" y2="107.58" stroke="#000" stroke-width="1.55" stroke-dasharray="1.9 4.6"/>
<line x1="340.00" y1="113.18" x2="473.30" y2="89.16" stroke="#000" stroke-width="1.55" stroke-dasharray="12 4 3 4"/>
<circle cx="340.00" cy="237.67" r="2.60" fill="#000"/>
<circle cx="473.30" cy="210.23" r="2.60" fill="#000"/>
<circle cx="340.00" cy="108.08" r="2.15" fill="#fff" stroke="#000" stroke-width="0.95"/>
<line x1="337.90" y1="108.08" x2="342.10" y2="108.08" stroke="#222" stroke-width="0.65" />
<circle cx="473.30" cy="102.43" r="2.15" fill="#fff" stroke="#000" stroke-width="0.95"/>
<line x1="471.20" y1="102.43" x2="475.40" y2="102.43" stroke="#222" stroke-width="0.65" />
<rect x="337.70" y="138.32" width="4.60" height="4.60" fill="#000"/>
<rect x="471.00" y="120.01" width="4.60" height="4.60" fill="#000"/>
<rect x="337.80" y="132.15" width="4.40" height="4.40" fill="#fff" stroke="#222" stroke-width="0.9"/>
<rect x="471.10" y="114.51" width="4.40" height="4.40" fill="#fff" stroke="#222" stroke-width="0.9"/>
<path d="M337.40 132.50L340.00 129.90L342.60 132.50L340.00 135.10Z" fill="#000"/>
<path d="M470.70 107.58L473.30 104.98L475.90 107.58L473.30 110.18Z" fill="#000"/>
<path d="M338.10 113.18L340.00 111.28L341.90 113.18L340.00 115.08Z" fill="#fff" stroke="#000" stroke-width="1.05"/>
<path d="M471.40 89.16L473.30 87.26L475.20 89.16L473.30 91.06Z" fill="#fff" stroke="#000" stroke-width="1.05"/>
<rect x="379.90" y="28.00" width="47.40" height="63.50" fill="#fff"/>
<line x1="379.40" y1="27.50" x2="379.40" y2="92.00" stroke="#555" stroke-width="1" />
<line x1="427.80" y1="27.50" x2="427.80" y2="92.00" stroke="#555" stroke-width="1" />
<line x1="379.40" y1="91.50" x2="427.80" y2="91.50" stroke="#555" stroke-width="1" />
<line x1="383.00" y1="35.20" x2="403.00" y2="35.20" stroke="#000" stroke-width="1.3" />
<circle cx="393.10" cy="35.20" r="2.91" fill="#000"/>
<text x="405.00" y="38.50" transform="rotate(0.05 405.00 38.50)" font-size="9.8" text-anchor="start" stroke="#111" stroke-width="0.35">0.90</text>
<line x1="383.00" y1="44.75" x2="403.00" y2="44.75" stroke="#000" stroke-width="1.3" stroke-dasharray="10 8 2 50"/>
<circle cx="393.10" cy="44.75" r="2.41" fill="#fff" stroke="#000" stroke-width="0.95"/>
<line x1="390.75" y1="44.75" x2="395.45" y2="44.75" stroke="#222" stroke-width="0.8" />
<text x="405.00" y="48.05" transform="rotate(0.05 405.00 48.05)" font-size="9.8" text-anchor="start" stroke="#111" stroke-width="0.35">1.05</text>
<line x1="383.00" y1="54.30" x2="403.00" y2="54.30" stroke="#000" stroke-width="1.3" stroke-dasharray="3.6 3.4 7 3.5 2.5 50"/>
<rect x="390.52" y="51.72" width="5.15" height="5.15" fill="#000"/>
<text x="405.00" y="57.60" transform="rotate(0.05 405.00 57.60)" font-size="9.8" text-anchor="start" stroke="#111" stroke-width="0.35">1.20</text>
<line x1="383.00" y1="63.85" x2="403.00" y2="63.85" stroke="#000" stroke-width="1.3" stroke-dasharray="2 1.6"/>
<rect x="390.64" y="61.39" width="4.93" height="4.93" fill="#fff" stroke="#222" stroke-width="0.9"/>
<line x1="390.64" y1="63.85" x2="395.56" y2="63.85" stroke="#555" stroke-width="0.8" />
<text x="405.00" y="67.15" transform="rotate(0.05 405.00 67.15)" font-size="9.8" text-anchor="start" stroke="#111" stroke-width="0.35">1.30</text>
<line x1="383.00" y1="73.40" x2="403.00" y2="73.40" stroke="#000" stroke-width="1.3" stroke-dasharray="1.3 1.9"/>
<path d="M390.19 73.40L393.10 70.49L396.01 73.40L393.10 76.31Z" fill="#000"/>
<text x="405.00" y="76.70" transform="rotate(0.05 405.00 76.70)" font-size="9.8" text-anchor="start" stroke="#111" stroke-width="0.35">1.40</text>
<line x1="383.00" y1="82.95" x2="403.00" y2="82.95" stroke="#000" stroke-width="1.3" stroke-dasharray="10 8 2 50"/>
<path d="M390.97 82.95L393.10 80.82L395.23 82.95L393.10 85.08Z" fill="#fff" stroke="#000" stroke-width="1.05"/>
<text x="405.00" y="86.25" transform="rotate(0.05 405.00 86.25)" font-size="9.8" text-anchor="start" stroke="#111" stroke-width="0.35">1.50</text>
<text x="404.00" y="264.30" transform="rotate(0.05 404.00 264.30)" font-size="8.05" text-anchor="middle" stroke="#111" stroke-width="0.3">Day of Therapy (1 and 4 versus 8 and 11)</text>
<rect x="29.50" y="289.80" width="223.00" height="222.00" fill="none" stroke="#555" stroke-width="1"/>
<line x1="29.50" y1="508.10" x2="31.30" y2="508.10" stroke="#666" stroke-width="1" />
<line x1="252.50" y1="508.10" x2="250.70" y2="508.10" stroke="#666" stroke-width="1" />
<line x1="29.50" y1="500.70" x2="31.30" y2="500.70" stroke="#666" stroke-width="1" />
<line x1="252.50" y1="500.70" x2="250.70" y2="500.70" stroke="#666" stroke-width="1" />
<line x1="29.50" y1="493.30" x2="32.70" y2="493.30" stroke="#666" stroke-width="1" />
<line x1="252.50" y1="493.30" x2="249.30" y2="493.30" stroke="#666" stroke-width="1" />
<line x1="29.50" y1="485.90" x2="31.30" y2="485.90" stroke="#666" stroke-width="1" />
<line x1="252.50" y1="485.90" x2="250.70" y2="485.90" stroke="#666" stroke-width="1" />
<line x1="29.50" y1="478.50" x2="31.30" y2="478.50" stroke="#666" stroke-width="1" />
<line x1="252.50" y1="478.50" x2="250.70" y2="478.50" stroke="#666" stroke-width="1" />
<line x1="29.50" y1="471.10" x2="31.30" y2="471.10" stroke="#666" stroke-width="1" />
<line x1="252.50" y1="471.10" x2="250.70" y2="471.10" stroke="#666" stroke-width="1" />
<line x1="29.50" y1="463.70" x2="31.30" y2="463.70" stroke="#666" stroke-width="1" />
<line x1="252.50" y1="463.70" x2="250.70" y2="463.70" stroke="#666" stroke-width="1" />
<line x1="29.50" y1="456.30" x2="32.70" y2="456.30" stroke="#666" stroke-width="1" />
<line x1="252.50" y1="456.30" x2="249.30" y2="456.30" stroke="#666" stroke-width="1" />
<line x1="29.50" y1="448.90" x2="31.30" y2="448.90" stroke="#666" stroke-width="1" />
<line x1="252.50" y1="448.90" x2="250.70" y2="448.90" stroke="#666" stroke-width="1" />
<line x1="29.50" y1="441.50" x2="31.30" y2="441.50" stroke="#666" stroke-width="1" />
<line x1="252.50" y1="441.50" x2="250.70" y2="441.50" stroke="#666" stroke-width="1" />
<line x1="29.50" y1="434.10" x2="31.30" y2="434.10" stroke="#666" stroke-width="1" />
<line x1="252.50" y1="434.10" x2="250.70" y2="434.10" stroke="#666" stroke-width="1" />
<line x1="29.50" y1="426.70" x2="31.30" y2="426.70" stroke="#666" stroke-width="1" />
<line x1="252.50" y1="426.70" x2="250.70" y2="426.70" stroke="#666" stroke-width="1" />
<line x1="29.50" y1="419.30" x2="32.70" y2="419.30" stroke="#666" stroke-width="1" />
<line x1="252.50" y1="419.30" x2="249.30" y2="419.30" stroke="#666" stroke-width="1" />
<line x1="29.50" y1="411.90" x2="31.30" y2="411.90" stroke="#666" stroke-width="1" />
<line x1="252.50" y1="411.90" x2="250.70" y2="411.90" stroke="#666" stroke-width="1" />
<line x1="29.50" y1="404.50" x2="31.30" y2="404.50" stroke="#666" stroke-width="1" />
<line x1="252.50" y1="404.50" x2="250.70" y2="404.50" stroke="#666" stroke-width="1" />
<line x1="29.50" y1="397.10" x2="31.30" y2="397.10" stroke="#666" stroke-width="1" />
<line x1="252.50" y1="397.10" x2="250.70" y2="397.10" stroke="#666" stroke-width="1" />
<line x1="29.50" y1="389.70" x2="31.30" y2="389.70" stroke="#666" stroke-width="1" />
<line x1="252.50" y1="389.70" x2="250.70" y2="389.70" stroke="#666" stroke-width="1" />
<line x1="29.50" y1="382.30" x2="32.70" y2="382.30" stroke="#666" stroke-width="1" />
<line x1="252.50" y1="382.30" x2="249.30" y2="382.30" stroke="#666" stroke-width="1" />
<line x1="29.50" y1="374.90" x2="31.30" y2="374.90" stroke="#666" stroke-width="1" />
<line x1="252.50" y1="374.90" x2="250.70" y2="374.90" stroke="#666" stroke-width="1" />
<line x1="29.50" y1="367.50" x2="31.30" y2="367.50" stroke="#666" stroke-width="1" />
<line x1="252.50" y1="367.50" x2="250.70" y2="367.50" stroke="#666" stroke-width="1" />
<line x1="29.50" y1="360.10" x2="31.30" y2="360.10" stroke="#666" stroke-width="1" />
<line x1="252.50" y1="360.10" x2="250.70" y2="360.10" stroke="#666" stroke-width="1" />
<line x1="29.50" y1="352.70" x2="31.30" y2="352.70" stroke="#666" stroke-width="1" />
<line x1="252.50" y1="352.70" x2="250.70" y2="352.70" stroke="#666" stroke-width="1" />
<line x1="29.50" y1="345.30" x2="32.70" y2="345.30" stroke="#666" stroke-width="1" />
<line x1="252.50" y1="345.30" x2="249.30" y2="345.30" stroke="#666" stroke-width="1" />
<line x1="29.50" y1="337.90" x2="31.30" y2="337.90" stroke="#666" stroke-width="1" />
<line x1="252.50" y1="337.90" x2="250.70" y2="337.90" stroke="#666" stroke-width="1" />
<line x1="29.50" y1="330.50" x2="31.30" y2="330.50" stroke="#666" stroke-width="1" />
<line x1="252.50" y1="330.50" x2="250.70" y2="330.50" stroke="#666" stroke-width="1" />
<line x1="29.50" y1="323.10" x2="31.30" y2="323.10" stroke="#666" stroke-width="1" />
<line x1="252.50" y1="323.10" x2="250.70" y2="323.10" stroke="#666" stroke-width="1" />
<line x1="29.50" y1="315.70" x2="31.30" y2="315.70" stroke="#666" stroke-width="1" />
<line x1="252.50" y1="315.70" x2="250.70" y2="315.70" stroke="#666" stroke-width="1" />
<line x1="29.50" y1="308.30" x2="32.70" y2="308.30" stroke="#666" stroke-width="1" />
<line x1="252.50" y1="308.30" x2="249.30" y2="308.30" stroke="#666" stroke-width="1" />
<line x1="29.50" y1="300.90" x2="31.30" y2="300.90" stroke="#666" stroke-width="1" />
<line x1="252.50" y1="300.90" x2="250.70" y2="300.90" stroke="#666" stroke-width="1" />
<line x1="29.50" y1="293.50" x2="31.30" y2="293.50" stroke="#666" stroke-width="1" />
<line x1="252.50" y1="293.50" x2="250.70" y2="293.50" stroke="#666" stroke-width="1" />
<text x="27.40" y="496.50" transform="rotate(0.05 27.40 496.50)" font-size="9.4" text-anchor="end" stroke="#111" stroke-width="0.45">0.1</text>
<text x="27.40" y="459.50" transform="rotate(0.05 27.40 459.50)" font-size="9.4" text-anchor="end" stroke="#111" stroke-width="0.45">0.2</text>
<text x="27.40" y="422.50" transform="rotate(0.05 27.40 422.50)" font-size="9.4" text-anchor="end" stroke="#111" stroke-width="0.45">0.3</text>
<text x="27.40" y="385.50" transform="rotate(0.05 27.40 385.50)" font-size="9.4" text-anchor="end" stroke="#111" stroke-width="0.45">0.4</text>
<text x="27.40" y="348.50" transform="rotate(0.05 27.40 348.50)" font-size="9.4" text-anchor="end" stroke="#111" stroke-width="0.45">0.5</text>
<text x="27.40" y="311.50" transform="rotate(0.05 27.40 311.50)" font-size="9.4" text-anchor="end" stroke="#111" stroke-width="0.45">0.6</text>
<line x1="74.00" y1="308.30" x2="74.00" y2="434.10" stroke="#6c6c6c" stroke-width="1.1" />
<line x1="72.50" y1="308.30" x2="75.50" y2="308.30" stroke="#555" stroke-width="1.0" />
<line x1="72.50" y1="315.70" x2="75.50" y2="315.70" stroke="#555" stroke-width="1.0" />
<line x1="72.50" y1="361.21" x2="75.50" y2="361.21" stroke="#555" stroke-width="1.0" />
<line x1="72.50" y1="365.28" x2="75.50" y2="365.28" stroke="#555" stroke-width="1.0" />
<line x1="72.50" y1="393.40" x2="75.50" y2="393.40" stroke="#555" stroke-width="1.0" />
<line x1="72.50" y1="397.10" x2="75.50" y2="397.10" stroke="#555" stroke-width="1.0" />
<line x1="72.50" y1="419.30" x2="75.50" y2="419.30" stroke="#555" stroke-width="1.0" />
<line x1="72.50" y1="434.10" x2="75.50" y2="434.10" stroke="#555" stroke-width="1.0" />
<line x1="208.00" y1="437.80" x2="208.00" y2="504.40" stroke="#6c6c6c" stroke-width="1.1" />
<line x1="206.50" y1="437.80" x2="209.50" y2="437.80" stroke="#555" stroke-width="1.0" />
<line x1="206.50" y1="445.57" x2="209.50" y2="445.57" stroke="#555" stroke-width="1.0" />
<line x1="206.50" y1="485.90" x2="209.50" y2="485.90" stroke="#555" stroke-width="1.0" />
<line x1="206.50" y1="489.60" x2="209.50" y2="489.60" stroke="#555" stroke-width="1.0" />
<line x1="206.50" y1="504.40" x2="209.50" y2="504.40" stroke="#555" stroke-width="1.0" />
<line x1="74.00" y1="411.90" x2="208.00" y2="460.00" stroke="#000" stroke-width="1.8" />
<line x1="74.00" y1="377.86" x2="208.00" y2="478.50" stroke="#000" stroke-width="1.8" stroke-dasharray="17.21 4.80" stroke-dashoffset="-2.00"/>
<line x1="74.00" y1="378.60" x2="208.00" y2="471.10" stroke="#000" stroke-width="1.66" stroke-dasharray="6.61 4.08" stroke-dashoffset="-1.94"/>
<line x1="74.00" y1="374.90" x2="208.00" y2="469.25" stroke="#000" stroke-width="1.44" stroke-dasharray="2.94 2.45" stroke-dashoffset="-1.96"/>
<line x1="74.00" y1="371.20" x2="208.00" y2="467.77" stroke="#000" stroke-width="1.44" stroke-dasharray="1.87 3.55" stroke-dashoffset="-1.97"/>
<line x1="74.00" y1="367.50" x2="208.00" y2="468.14" stroke="#000" stroke-width="1.8" stroke-dasharray="10.61 3.90 3.60 3.90" stroke-dashoffset="-2.00"/>
<circle cx="74.00" cy="411.90" r="2.60" fill="#000"/>
<circle cx="208.00" cy="460.00" r="2.60" fill="#000"/>
<circle cx="208.00" cy="478.50" r="2.15" fill="#fff" stroke="#000" stroke-width="0.95"/>
<line x1="205.90" y1="478.50" x2="210.10" y2="478.50" stroke="#222" stroke-width="0.65" />
<rect x="71.70" y="376.30" width="4.60" height="4.60" fill="#000"/>
<rect x="205.70" y="468.80" width="4.60" height="4.60" fill="#000"/>
<rect x="71.80" y="372.70" width="4.40" height="4.40" fill="#fff" stroke="#222" stroke-width="0.9"/>
<path d="M71.40 371.20L74.00 368.60L76.60 371.20L74.00 373.80Z" fill="#000"/>
<path d="M205.40 467.77L208.00 465.17L210.60 467.77L208.00 470.37Z" fill="#000"/>
<path d="M72.10 367.50L74.00 365.60L75.90 367.50L74.00 369.40Z" fill="#fff" stroke="#000" stroke-width="1.05"/>
<rect x="118.90" y="290.30" width="48.40" height="62.80" fill="#fff"/>
<line x1="118.40" y1="289.80" x2="118.40" y2="353.60" stroke="#555" stroke-width="1" />
<line x1="167.80" y1="289.80" x2="167.80" y2="353.60" stroke="#555" stroke-width="1" />
<line x1="118.40" y1="353.10" x2="167.80" y2="353.10" stroke="#555" stroke-width="1" />
<line x1="122.60" y1="297.60" x2="142.60" y2="297.60" stroke="#000" stroke-width="1.3" />
<circle cx="132.70" cy="297.60" r="2.91" fill="#000"/>
<text x="144.60" y="300.90" transform="rotate(0.05 144.60 300.90)" font-size="9.8" text-anchor="start" stroke="#111" stroke-width="0.35">0.90</text>
<line x1="122.60" y1="307.20" x2="142.60" y2="307.20" stroke="#000" stroke-width="1.3" stroke-dasharray="10 8 2 50"/>
<circle cx="132.70" cy="307.20" r="2.41" fill="#fff" stroke="#000" stroke-width="0.95"/>
<line x1="130.35" y1="307.20" x2="135.05" y2="307.20" stroke="#222" stroke-width="0.8" />
<text x="144.60" y="310.50" transform="rotate(0.05 144.60 310.50)" font-size="9.8" text-anchor="start" stroke="#111" stroke-width="0.35">1.05</text>
<line x1="122.60" y1="316.80" x2="142.60" y2="316.80" stroke="#000" stroke-width="1.3" stroke-dasharray="3.6 3.4 7 3.5 2.5 50"/>
<rect x="130.12" y="314.22" width="5.15" height="5.15" fill="#000"/>
<text x="144.60" y="320.10" transform="rotate(0.05 144.60 320.10)" font-size="9.8" text-anchor="start" stroke="#111" stroke-width="0.35">1.20</text>
<line x1="122.60" y1="326.40" x2="142.60" y2="326.40" stroke="#000" stroke-width="1.3" stroke-dasharray="2 1.6"/>
<rect x="130.24" y="323.94" width="4.93" height="4.93" fill="#fff" stroke="#222" stroke-width="0.9"/>
<line x1="130.24" y1="326.40" x2="135.16" y2="326.40" stroke="#555" stroke-width="0.8" />
<text x="144.60" y="329.70" transform="rotate(0.05 144.60 329.70)" font-size="9.8" text-anchor="start" stroke="#111" stroke-width="0.35">1.30</text>
<line x1="122.60" y1="336.00" x2="142.60" y2="336.00" stroke="#000" stroke-width="1.3" stroke-dasharray="1.3 1.9"/>
<path d="M129.79 336.00L132.70 333.09L135.61 336.00L132.70 338.91Z" fill="#000"/>
<text x="144.60" y="339.30" transform="rotate(0.05 144.60 339.30)" font-size="9.8" text-anchor="start" stroke="#111" stroke-width="0.35">1.40</text>
<line x1="122.60" y1="345.60" x2="142.60" y2="345.60" stroke="#000" stroke-width="1.3" stroke-dasharray="10 8 2 50"/>
<path d="M130.57 345.60L132.70 343.47L134.83 345.60L132.70 347.73Z" fill="#fff" stroke="#000" stroke-width="1.05"/>
<text x="144.60" y="348.90" transform="rotate(0.05 144.60 348.90)" font-size="9.8" text-anchor="start" stroke="#111" stroke-width="0.35">1.50</text>
<text x="138.80" y="523.30" transform="rotate(0.05 138.80 523.30)" font-size="8.05" text-anchor="middle" stroke="#111" stroke-width="0.3">Activity Before and 1 hour After Bortezomib</text>
<rect x="296.50" y="291.00" width="221.30" height="221.50" fill="none" stroke="#555" stroke-width="1"/>
<line x1="296.50" y1="508.07" x2="298.30" y2="508.07" stroke="#666" stroke-width="1" />
<line x1="517.80" y1="508.07" x2="516.00" y2="508.07" stroke="#666" stroke-width="1" />
<line x1="296.50" y1="499.21" x2="298.30" y2="499.21" stroke="#666" stroke-width="1" />
<line x1="517.80" y1="499.21" x2="516.00" y2="499.21" stroke="#666" stroke-width="1" />
<line x1="296.50" y1="490.35" x2="299.70" y2="490.35" stroke="#666" stroke-width="1" />
<line x1="517.80" y1="490.35" x2="514.60" y2="490.35" stroke="#666" stroke-width="1" />
<line x1="296.50" y1="481.49" x2="298.30" y2="481.49" stroke="#666" stroke-width="1" />
<line x1="517.80" y1="481.49" x2="516.00" y2="481.49" stroke="#666" stroke-width="1" />
<line x1="296.50" y1="472.63" x2="298.30" y2="472.63" stroke="#666" stroke-width="1" />
<line x1="517.80" y1="472.63" x2="516.00" y2="472.63" stroke="#666" stroke-width="1" />
<line x1="296.50" y1="463.77" x2="298.30" y2="463.77" stroke="#666" stroke-width="1" />
<line x1="517.80" y1="463.77" x2="516.00" y2="463.77" stroke="#666" stroke-width="1" />
<line x1="296.50" y1="454.91" x2="298.30" y2="454.91" stroke="#666" stroke-width="1" />
<line x1="517.80" y1="454.91" x2="516.00" y2="454.91" stroke="#666" stroke-width="1" />
<line x1="296.50" y1="446.05" x2="299.70" y2="446.05" stroke="#666" stroke-width="1" />
<line x1="517.80" y1="446.05" x2="514.60" y2="446.05" stroke="#666" stroke-width="1" />
<line x1="296.50" y1="437.19" x2="298.30" y2="437.19" stroke="#666" stroke-width="1" />
<line x1="517.80" y1="437.19" x2="516.00" y2="437.19" stroke="#666" stroke-width="1" />
<line x1="296.50" y1="428.33" x2="298.30" y2="428.33" stroke="#666" stroke-width="1" />
<line x1="517.80" y1="428.33" x2="516.00" y2="428.33" stroke="#666" stroke-width="1" />
<line x1="296.50" y1="419.47" x2="298.30" y2="419.47" stroke="#666" stroke-width="1" />
<line x1="517.80" y1="419.47" x2="516.00" y2="419.47" stroke="#666" stroke-width="1" />
<line x1="296.50" y1="410.61" x2="298.30" y2="410.61" stroke="#666" stroke-width="1" />
<line x1="517.80" y1="410.61" x2="516.00" y2="410.61" stroke="#666" stroke-width="1" />
<line x1="296.50" y1="401.75" x2="299.70" y2="401.75" stroke="#666" stroke-width="1" />
<line x1="517.80" y1="401.75" x2="514.60" y2="401.75" stroke="#666" stroke-width="1" />
<line x1="296.50" y1="392.89" x2="298.30" y2="392.89" stroke="#666" stroke-width="1" />
<line x1="517.80" y1="392.89" x2="516.00" y2="392.89" stroke="#666" stroke-width="1" />
<line x1="296.50" y1="384.03" x2="298.30" y2="384.03" stroke="#666" stroke-width="1" />
<line x1="517.80" y1="384.03" x2="516.00" y2="384.03" stroke="#666" stroke-width="1" />
<line x1="296.50" y1="375.17" x2="298.30" y2="375.17" stroke="#666" stroke-width="1" />
<line x1="517.80" y1="375.17" x2="516.00" y2="375.17" stroke="#666" stroke-width="1" />
<line x1="296.50" y1="366.31" x2="298.30" y2="366.31" stroke="#666" stroke-width="1" />
<line x1="517.80" y1="366.31" x2="516.00" y2="366.31" stroke="#666" stroke-width="1" />
<line x1="296.50" y1="357.45" x2="299.70" y2="357.45" stroke="#666" stroke-width="1" />
<line x1="517.80" y1="357.45" x2="514.60" y2="357.45" stroke="#666" stroke-width="1" />
<line x1="296.50" y1="348.59" x2="298.30" y2="348.59" stroke="#666" stroke-width="1" />
<line x1="517.80" y1="348.59" x2="516.00" y2="348.59" stroke="#666" stroke-width="1" />
<line x1="296.50" y1="339.73" x2="298.30" y2="339.73" stroke="#666" stroke-width="1" />
<line x1="517.80" y1="339.73" x2="516.00" y2="339.73" stroke="#666" stroke-width="1" />
<line x1="296.50" y1="330.87" x2="298.30" y2="330.87" stroke="#666" stroke-width="1" />
<line x1="517.80" y1="330.87" x2="516.00" y2="330.87" stroke="#666" stroke-width="1" />
<line x1="296.50" y1="322.01" x2="298.30" y2="322.01" stroke="#666" stroke-width="1" />
<line x1="517.80" y1="322.01" x2="516.00" y2="322.01" stroke="#666" stroke-width="1" />
<line x1="296.50" y1="313.15" x2="299.70" y2="313.15" stroke="#666" stroke-width="1" />
<line x1="517.80" y1="313.15" x2="514.60" y2="313.15" stroke="#666" stroke-width="1" />
<line x1="296.50" y1="304.29" x2="298.30" y2="304.29" stroke="#666" stroke-width="1" />
<line x1="517.80" y1="304.29" x2="516.00" y2="304.29" stroke="#666" stroke-width="1" />
<line x1="296.50" y1="295.43" x2="298.30" y2="295.43" stroke="#666" stroke-width="1" />
<line x1="517.80" y1="295.43" x2="516.00" y2="295.43" stroke="#666" stroke-width="1" />
<text x="294.30" y="493.55" transform="rotate(0.05 294.30 493.55)" font-size="9.4" text-anchor="end" stroke="#111" stroke-width="0.45">0.1</text>
<text x="294.30" y="449.25" transform="rotate(0.05 294.30 449.25)" font-size="9.4" text-anchor="end" stroke="#111" stroke-width="0.45">0.2</text>
<text x="294.30" y="404.95" transform="rotate(0.05 294.30 404.95)" font-size="9.4" text-anchor="end" stroke="#111" stroke-width="0.45">0.3</text>
<text x="294.30" y="360.65" transform="rotate(0.05 294.30 360.65)" font-size="9.4" text-anchor="end" stroke="#111" stroke-width="0.45">0.4</text>
<text x="294.30" y="316.35" transform="rotate(0.05 294.30 316.35)" font-size="9.4" text-anchor="end" stroke="#111" stroke-width="0.45">0.5</text>
<line x1="327.80" y1="308.72" x2="327.80" y2="410.61" stroke="#999" stroke-width="1.5" />
<line x1="326.30" y1="410.61" x2="329.30" y2="410.61" stroke="#555" stroke-width="1.0" />
<line x1="326.30" y1="388.46" x2="329.30" y2="388.46" stroke="#555" stroke-width="1.0" />
<line x1="326.30" y1="313.15" x2="329.30" y2="313.15" stroke="#555" stroke-width="1.0" />
<line x1="326.30" y1="308.72" x2="329.30" y2="308.72" stroke="#555" stroke-width="1.0" />
<line x1="486.30" y1="437.19" x2="486.30" y2="499.21" stroke="#888" stroke-width="1.2" />
<line x1="484.80" y1="499.21" x2="487.80" y2="499.21" stroke="#555" stroke-width="1.0" />
<line x1="484.80" y1="490.35" x2="487.80" y2="490.35" stroke="#555" stroke-width="1.0" />
<line x1="484.80" y1="446.05" x2="487.80" y2="446.05" stroke="#555" stroke-width="1.0" />
<line x1="484.80" y1="437.19" x2="487.80" y2="437.19" stroke="#555" stroke-width="1.0" />
<line x1="327.80" y1="348.59" x2="486.30" y2="463.77" stroke="#000" stroke-width="1.7" />
<line x1="327.80" y1="361.88" x2="486.30" y2="472.63" stroke="#000" stroke-width="1.7" stroke-dasharray="13 8.45" stroke-dashoffset="19.75"/>
<circle cx="327.80" cy="348.59" r="2.60" fill="#000"/>
<circle cx="486.30" cy="463.77" r="2.60" fill="#000"/>
<circle cx="327.80" cy="361.88" r="2.15" fill="#fff" stroke="#000" stroke-width="0.95"/>
<line x1="325.70" y1="361.88" x2="329.90" y2="361.88" stroke="#222" stroke-width="0.65" />
<circle cx="486.30" cy="472.63" r="2.15" fill="#fff" stroke="#000" stroke-width="0.95"/>
<line x1="484.20" y1="472.63" x2="488.40" y2="472.63" stroke="#222" stroke-width="0.65" />
<rect x="428.30" y="291.50" width="89.00" height="25.10" fill="#fff"/>
<line x1="427.80" y1="291.00" x2="427.80" y2="317.10" stroke="#555" stroke-width="1" />
<line x1="427.80" y1="316.60" x2="517.80" y2="316.60" stroke="#555" stroke-width="1" />
<line x1="431.80" y1="298.80" x2="451.80" y2="298.80" stroke="#000" stroke-width="1.3" />
<circle cx="441.90" cy="298.80" r="2.91" fill="#000"/>
<text x="453.60" y="302.10" transform="rotate(0.05 453.60 302.10)" font-size="10" text-anchor="start" stroke="#111" stroke-width="0.35">Day 1 and 4</text>
<line x1="431.80" y1="308.35" x2="451.80" y2="308.35" stroke="#000" stroke-width="1.3" stroke-dasharray="10 8 2 50"/>
<circle cx="441.90" cy="308.35" r="2.41" fill="#fff" stroke="#000" stroke-width="0.95"/>
<line x1="439.55" y1="308.35" x2="444.25" y2="308.35" stroke="#222" stroke-width="0.8" />
<text x="453.60" y="311.65" transform="rotate(0.05 453.60 311.65)" font-size="10" text-anchor="start" stroke="#111" stroke-width="0.35">Day 8 and 11</text>
<text x="405.30" y="523.30" transform="rotate(0.05 405.30 523.30)" font-size="8.05" text-anchor="middle" stroke="#111" stroke-width="0.3">Activity Before and 1 hour After Bortezomib</text>
</svg>
</body></html>
